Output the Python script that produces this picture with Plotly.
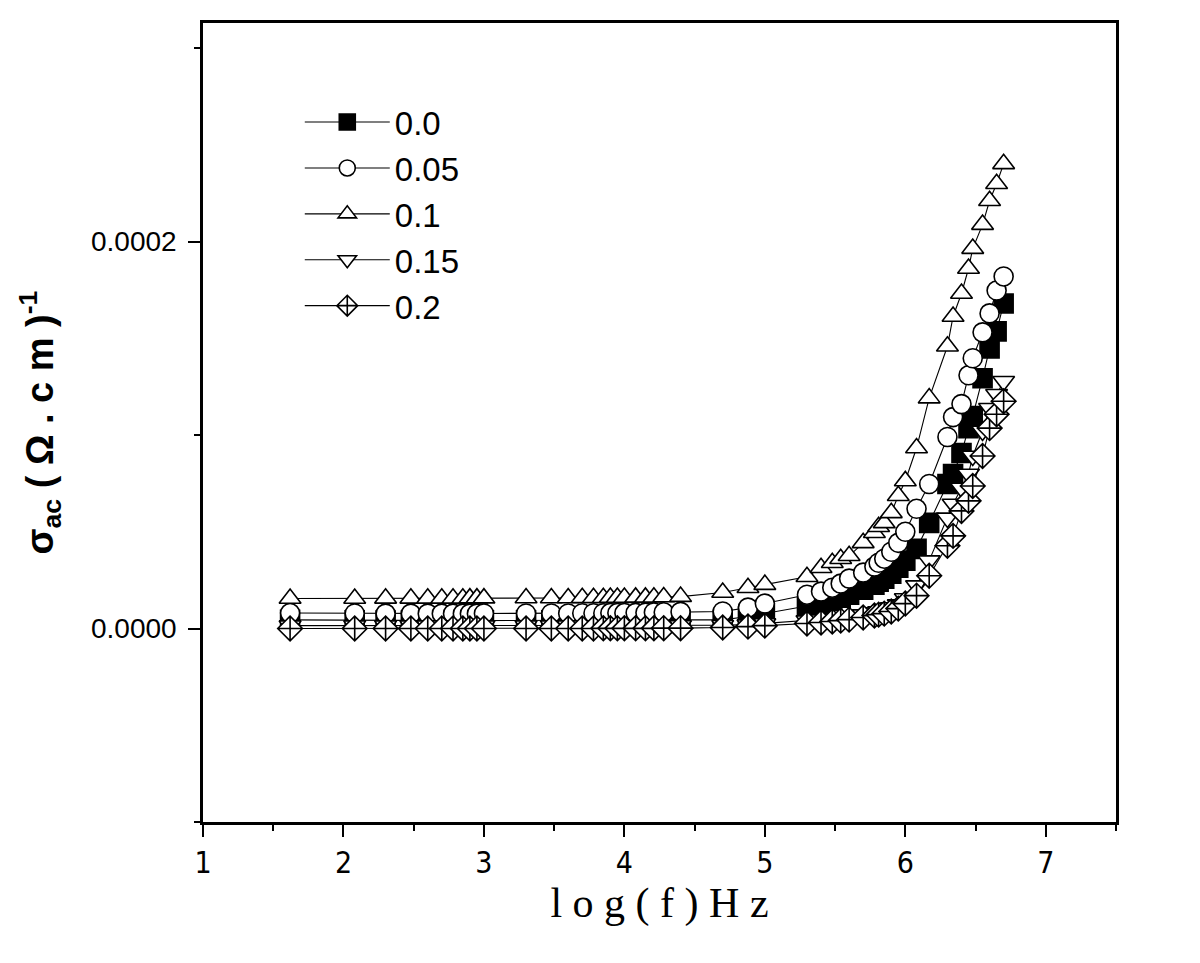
import plotly.graph_objects as go

# log10 of measuring frequency (Hz)
log_f = [
    1.62, 2.08, 2.30, 2.48, 2.60, 2.70, 2.78, 2.85, 2.90, 2.95, 3.00,
    3.30, 3.48, 3.60, 3.70, 3.78, 3.85, 3.90, 3.95, 4.00, 4.08, 4.15, 4.21, 4.28, 4.40,
    4.70, 4.88, 5.00, 5.30, 5.40, 5.48, 5.54, 5.60, 5.70, 5.78, 5.81, 5.85, 5.90, 5.95,
    6.00, 6.08, 6.17, 6.30, 6.34, 6.40, 6.45, 6.48, 6.55, 6.60, 6.65, 6.70,
]

# sigma_ac in units of 1e-5 (Ohm.cm)^-1
sigma_00 = [
    0.45, 0.42, 0.41, 0.41, 0.41, 0.41, 0.41, 0.41, 0.41, 0.41, 0.42,
    0.42, 0.42, 0.42, 0.42, 0.42, 0.43, 0.43, 0.43, 0.43, 0.43, 0.44, 0.44, 0.44, 0.45,
    0.45, 0.62, 0.77, 1.13, 1.29, 1.44, 1.60, 1.75, 2.01, 2.27, 2.42, 2.58, 2.84, 3.14,
    3.51, 4.12, 5.46, 7.47, 7.99, 9.07, 10.36, 10.98, 12.94, 14.48, 15.36, 16.80,
]
sigma_005 = [
    0.80, 0.78, 0.77, 0.77, 0.77, 0.77, 0.77, 0.77, 0.77, 0.77, 0.78,
    0.78, 0.78, 0.78, 0.79, 0.79, 0.79, 0.80, 0.80, 0.80, 0.81, 0.82, 0.83, 0.84, 0.86,
    0.88, 1.08, 1.29, 1.75, 1.91, 2.11, 2.32, 2.58, 2.89, 3.20, 3.40, 3.61, 3.97, 4.43,
    5.00, 6.19, 7.47, 9.90, 10.93, 11.60, 13.09, 13.97, 15.31, 16.29, 17.47, 18.20,
]
sigma_01 = [
    1.55, 1.55, 1.56, 1.56, 1.56, 1.56, 1.56, 1.56, 1.57, 1.57, 1.57,
    1.58, 1.58, 1.58, 1.59, 1.59, 1.59, 1.60, 1.60, 1.60, 1.61, 1.61, 1.62, 1.63, 1.65,
    1.86, 2.11, 2.27, 2.68, 3.14, 3.40, 3.61, 3.76, 4.43, 4.95, 5.26, 5.46, 5.98, 6.86,
    7.63, 9.33, 11.91, 14.59, 16.13, 17.32, 18.61, 19.64, 20.88, 22.11, 22.99, 24.02,
]
sigma_015 = [
    0.15, 0.15, 0.15, 0.15, 0.15, 0.15, 0.15, 0.15, 0.15, 0.15, 0.15,
    0.15, 0.15, 0.15, 0.15, 0.15, 0.15, 0.15, 0.15, 0.16, 0.16, 0.16, 0.16, 0.16, 0.16,
    0.17, 0.20, 0.26, 0.41, 0.46, 0.52, 0.57, 0.62, 0.72, 0.82, 0.88, 0.93, 1.08, 1.24,
    1.55, 2.22, 3.51, 5.72, 6.44, 7.27, 7.99, 8.92, 10.21, 11.39, 12.11, 12.78,
]
sigma_02 = [
    0.00, 0.00, 0.00, 0.00, 0.00, 0.00, 0.00, 0.00, 0.00, 0.00, 0.00,
    0.00, 0.00, 0.00, 0.00, 0.00, 0.01, 0.01, 0.01, 0.01, 0.01, 0.01, 0.01, 0.02, 0.02,
    0.05, 0.10, 0.15, 0.26, 0.31, 0.36, 0.41, 0.46, 0.57, 0.67, 0.72, 0.77, 0.88, 1.03,
    1.29, 1.70, 2.73, 4.28, 4.79, 6.08, 6.60, 7.37, 8.92, 10.36, 11.08, 11.75,
]

series = [
    ('0.0', sigma_00, 'square', 'black'),
    ('0.05', sigma_005, 'circle', 'white'),
    ('0.1', sigma_01, 'triangle-up', 'white'),
    ('0.15', sigma_015, 'triangle-down', 'white'),
    ('0.2', sigma_02, 'diamond-cross', 'white'),
]

fig = go.Figure()
for name, vals, symbol, fill in series:
    fig.add_trace(go.Scatter(
        x=log_f,
        y=[v * 1e-5 for v in vals],
        mode='lines+markers',
        name=name,
        line={'color': 'black', 'width': 1.1},
        marker={'symbol': symbol, 'size': 19, 'color': fill,
                'line': {'color': 'black', 'width': 1.6}},
    ))

axis_common = dict(
    showline=True, linecolor='black', linewidth=2.5, mirror=True,
    showgrid=False, zeroline=False,
    ticks='outside', tickcolor='black', tickwidth=2, ticklen=12,
)

fig.update_layout(
    width=1200, height=963,
    template='plotly_white',
    plot_bgcolor='white', paper_bgcolor='white',
    margin={'l': 195, 'r': 92, 't': 12, 'b': 149},
    showlegend=True,
    legend={
        'x': 0.106, 'y': 0.911, 'xanchor': 'left', 'yanchor': 'top',
        'font': {'family': 'Liberation Sans, Arial', 'size': 33, 'color': 'black'},
        'bgcolor': 'rgba(0,0,0,0)', 'tracegroupgap': 0, 'itemwidth': 85,
    },
    xaxis=dict(
        axis_common, range=[1, 7.5], dtick=1, tick0=1, ticklabelstandoff=0,
        tickfont={'family': 'Liberation Sans Narrow, DejaVu Sans Condensed, Arial Narrow, Liberation Sans',
                  'size': 30, 'color': 'black'},
        minor={'dtick': 0.5, 'ticks': 'outside', 'ticklen': 6, 'tickwidth': 2, 'tickcolor': 'black'},
        title={'text': 'l o g ( f ) H z', 'standoff': 0,
               'font': {'family': 'Liberation Serif, Times New Roman', 'size': 42, 'color': 'black'}},
    ),
    yaxis=dict(
        axis_common, range=[-0.0001, 0.000313], dtick=0.0002, tick0=0, tickformat='.4f',
        ticklabelstandoff=6,
        tickfont={'family': 'Liberation Sans, Arial', 'size': 28, 'color': 'black'},
        minor={'dtick': 0.0001, 'ticks': 'outside', 'ticklen': 6, 'tickwidth': 2, 'tickcolor': 'black'},
        title={'text': '<b>σ<sub>ac</sub> ( Ω . c m )<sup>-1</sup></b>', 'standoff': 26,
               'font': {'family': 'Liberation Sans, Arial', 'size': 38, 'color': 'black'}},
    ),
)

fig.write_html('out.html')
